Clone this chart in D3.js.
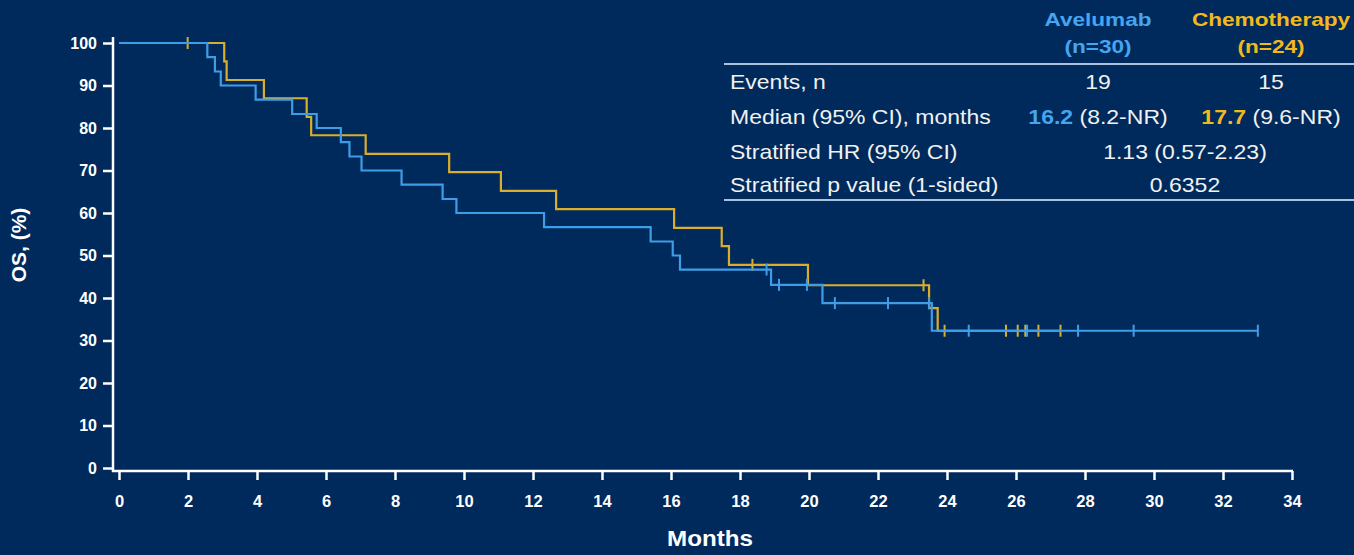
<!DOCTYPE html>
<html>
<head>
<meta charset="utf-8">
<script src="https://cdn.jsdelivr.net/npm/d3@7"></script>
<style>
  html, body { margin: 0; padding: 0; background: #002a5b; }
  svg { display: block; }
  text { font-family: "Liberation Sans", Arial, sans-serif; }
</style>
</head>
<body>
<svg id="chart" width="1354" height="555"></svg>
<script>
// ---------- data ----------
const xTicks = [0, 2, 4, 6, 8, 10, 12, 14, 16, 18, 20, 22, 24, 26, 28, 30, 32, 34];
const yTicks = [0, 10, 20, 30, 40, 50, 60, 70, 80, 90, 100];

// Avelumab KM steps (months, OS %)
const aveTimes = [0, 2.56, 2.78, 2.95, 3.96, 5.02, 5.73, 6.43, 6.68, 7.03, 8.19, 9.38, 9.78, 12.32, 15.41, 16.05, 16.26, 18.9, 20.39, 23.56, 33.01];
const aveSurv  = [100, 96.7, 93.3, 90.0, 86.7, 83.3, 80.0, 76.7, 73.3, 70.0, 66.7, 63.3, 60.0, 56.7, 53.3, 50.0, 46.7, 43.1, 38.8, 32.3, 32.3];
const aveCensor = [18.77, 19.13, 19.94, 20.75, 22.29, 23.48, 24.63, 26.32, 27.8, 29.41, 33.01];

// Chemotherapy KM steps
const chemoTimes = [0, 3.05, 3.12, 4.2, 5.44, 5.57, 7.15, 9.57, 11.07, 12.67, 16.09, 17.47, 17.68, 19.97, 23.48, 23.73, 27.29];
const chemoSurv  = [100, 95.7, 91.3, 87.0, 82.6, 78.3, 73.9, 69.6, 65.2, 60.9, 56.5, 52.2, 47.8, 43.0, 37.6, 32.3, 32.3];
const chemoCensor = [1.99, 18.36, 23.32, 23.93, 25.71, 26.05, 26.27, 26.65, 27.29];

// table content
const armNames = ["Avelumab", "Chemotherapy"];
const armN = ["(n=30)", "(n=24)"];
const rowLabels = ["Events, n", "Median (95% CI), months", "Stratified HR (95% CI)", "Stratified p value (1-sided)"];
const events = ["19", "15"];
const medians = ["16.2", "17.7"];
const medianCI = [" (8.2-NR)", " (9.6-NR)"];
const hrText = "1.13 (0.57-2.23)";
const pText = "0.6352";

// ---------- styling ----------
const BG = "#002a5b";
const BLUE = "#3f9de8";
const GOLD = "#d9ae2a";
const BLUE_TXT = "#45a5f0";
const GOLD_TXT = "#f2b91f";
const WHITE = "#ffffff";
const TXT = "#f1f1f1";
const RULE = "#a9c2df";

const svg = d3.select("#chart");
svg.append("rect").attr("width", 1354).attr("height", 555).attr("fill", BG);

const x = d3.scaleLinear().domain([0, 34]).range([119, 1292]);
const y = d3.scaleLinear().domain([0, 100]).range([468, 43]);

const axisX0 = 113, axisY0 = 471;

// horizontally stretched text helper (reference text is slightly widened)
function stext(parent, tx, ty, sx, anchor) {
  return parent.append("text")
    .attr("transform", `translate(${tx},${ty}) scale(${sx},1)`)
    .attr("text-anchor", anchor || "start");
}

// axis lines
svg.append("line").attr("x1", axisX0).attr("x2", axisX0).attr("y1", 37).attr("y2", axisY0 + 1)
  .attr("stroke", WHITE).attr("stroke-width", 2.5);
svg.append("line").attr("x1", axisX0 - 1).attr("x2", x(34) + 1).attr("y1", axisY0).attr("y2", axisY0)
  .attr("stroke", WHITE).attr("stroke-width", 2.5);

// y axis ticks
const gy = svg.append("g").attr("transform", `translate(${axisX0},0)`)
  .call(d3.axisLeft(y).tickValues(yTicks).tickSize(10).tickPadding(6));
gy.select(".domain").remove();
gy.selectAll(".tick line").attr("stroke", WHITE).attr("stroke-width", 2.5);
gy.selectAll(".tick text").attr("fill", WHITE).attr("font-size", 16).attr("font-weight", "bold")
  .style("font-family", "'Liberation Sans', Arial, sans-serif");

// x axis ticks
const gx = svg.append("g").attr("transform", `translate(0,${axisY0})`)
  .call(d3.axisBottom(x).tickValues(xTicks).tickSize(9).tickPadding(15));
gx.select(".domain").remove();
gx.selectAll(".tick line").attr("stroke", WHITE).attr("stroke-width", 2.5);
gx.selectAll(".tick text").attr("fill", WHITE).attr("font-size", 16.5).attr("font-weight", "bold")
  .style("font-family", "'Liberation Sans', Arial, sans-serif");

// axis titles
stext(svg, 710, 546, 1.1, "middle")
  .attr("fill", WHITE).attr("font-size", 22).attr("font-weight", "bold").text("Months");
svg.append("text").attr("transform", "translate(26,245) rotate(-90)").attr("text-anchor", "middle")
  .attr("fill", WHITE).attr("font-size", 21).attr("font-weight", "bold").text("OS, (%)");

// ---------- curves ----------
const stepLine = d3.line().x(d => x(d[0])).y(d => y(d[1])).curve(d3.curveStepAfter);
const survAt = (times, surv, t) => surv[Math.max(0, d3.bisectRight(times, t) - 1)];

function drawArm(times, surv, censor, color) {
  const pts = times.map((t, i) => [t, surv[i]]);
  svg.append("path").datum(pts).attr("d", stepLine)
    .attr("fill", "none").attr("stroke", color).attr("stroke-width", 2.2);
  svg.append("g").selectAll("line").data(censor).join("line")
    .attr("x1", d => x(d)).attr("x2", d => x(d))
    .attr("y1", d => y(survAt(times, surv, d)) - 6)
    .attr("y2", d => y(survAt(times, surv, d)) + 6)
    .attr("stroke", color).attr("stroke-width", 2);
}
drawArm(chemoTimes, chemoSurv, chemoCensor, GOLD);
drawArm(aveTimes, aveSurv, aveCensor, BLUE);

// ---------- table ----------
const colX = [1098, 1271];
const SX = 1.15;
const tbl = svg.append("g");
tbl.append("rect").attr("x", 724).attr("y", 64).attr("width", 630).attr("height", 136).attr("fill", BG);

armNames.forEach((n, i) => {
  const c = i === 0 ? BLUE_TXT : GOLD_TXT;
  stext(tbl, colX[i], 26, 1.19, "middle")
    .attr("fill", c).attr("font-size", 19).attr("font-weight", "bold").text(n);
  stext(tbl, colX[i], 53, 1.19, "middle")
    .attr("fill", c).attr("font-size", 19).attr("font-weight", "bold").text(armN[i]);
});

tbl.append("line").attr("x1", 724).attr("x2", 1354).attr("y1", 64).attr("y2", 64)
  .attr("stroke", RULE).attr("stroke-width", 2);
tbl.append("line").attr("x1", 724).attr("x2", 1354).attr("y1", 200).attr("y2", 200)
  .attr("stroke", RULE).attr("stroke-width", 2);

const rowY = [89, 124, 159, 192];
rowLabels.forEach((l, i) => {
  stext(tbl, 730, rowY[i], SX).attr("fill", TXT).attr("font-size", 20).text(l);
});
events.forEach((e, i) => {
  stext(tbl, colX[i], rowY[0], SX, "middle").attr("fill", TXT).attr("font-size", 20).text(e);
});
medians.forEach((m, i) => {
  const t = stext(tbl, colX[i], rowY[1], SX, "middle").attr("font-size", 20);
  t.append("tspan").attr("fill", i === 0 ? BLUE_TXT : GOLD_TXT).attr("font-weight", "bold").text(m);
  t.append("tspan").attr("fill", TXT).text(medianCI[i]);
});
stext(tbl, 1185, rowY[2], SX, "middle").attr("fill", TXT).attr("font-size", 20).text(hrText);
stext(tbl, 1185, rowY[3], SX, "middle").attr("fill", TXT).attr("font-size", 20).text(pText);
</script>
</body>
</html>
